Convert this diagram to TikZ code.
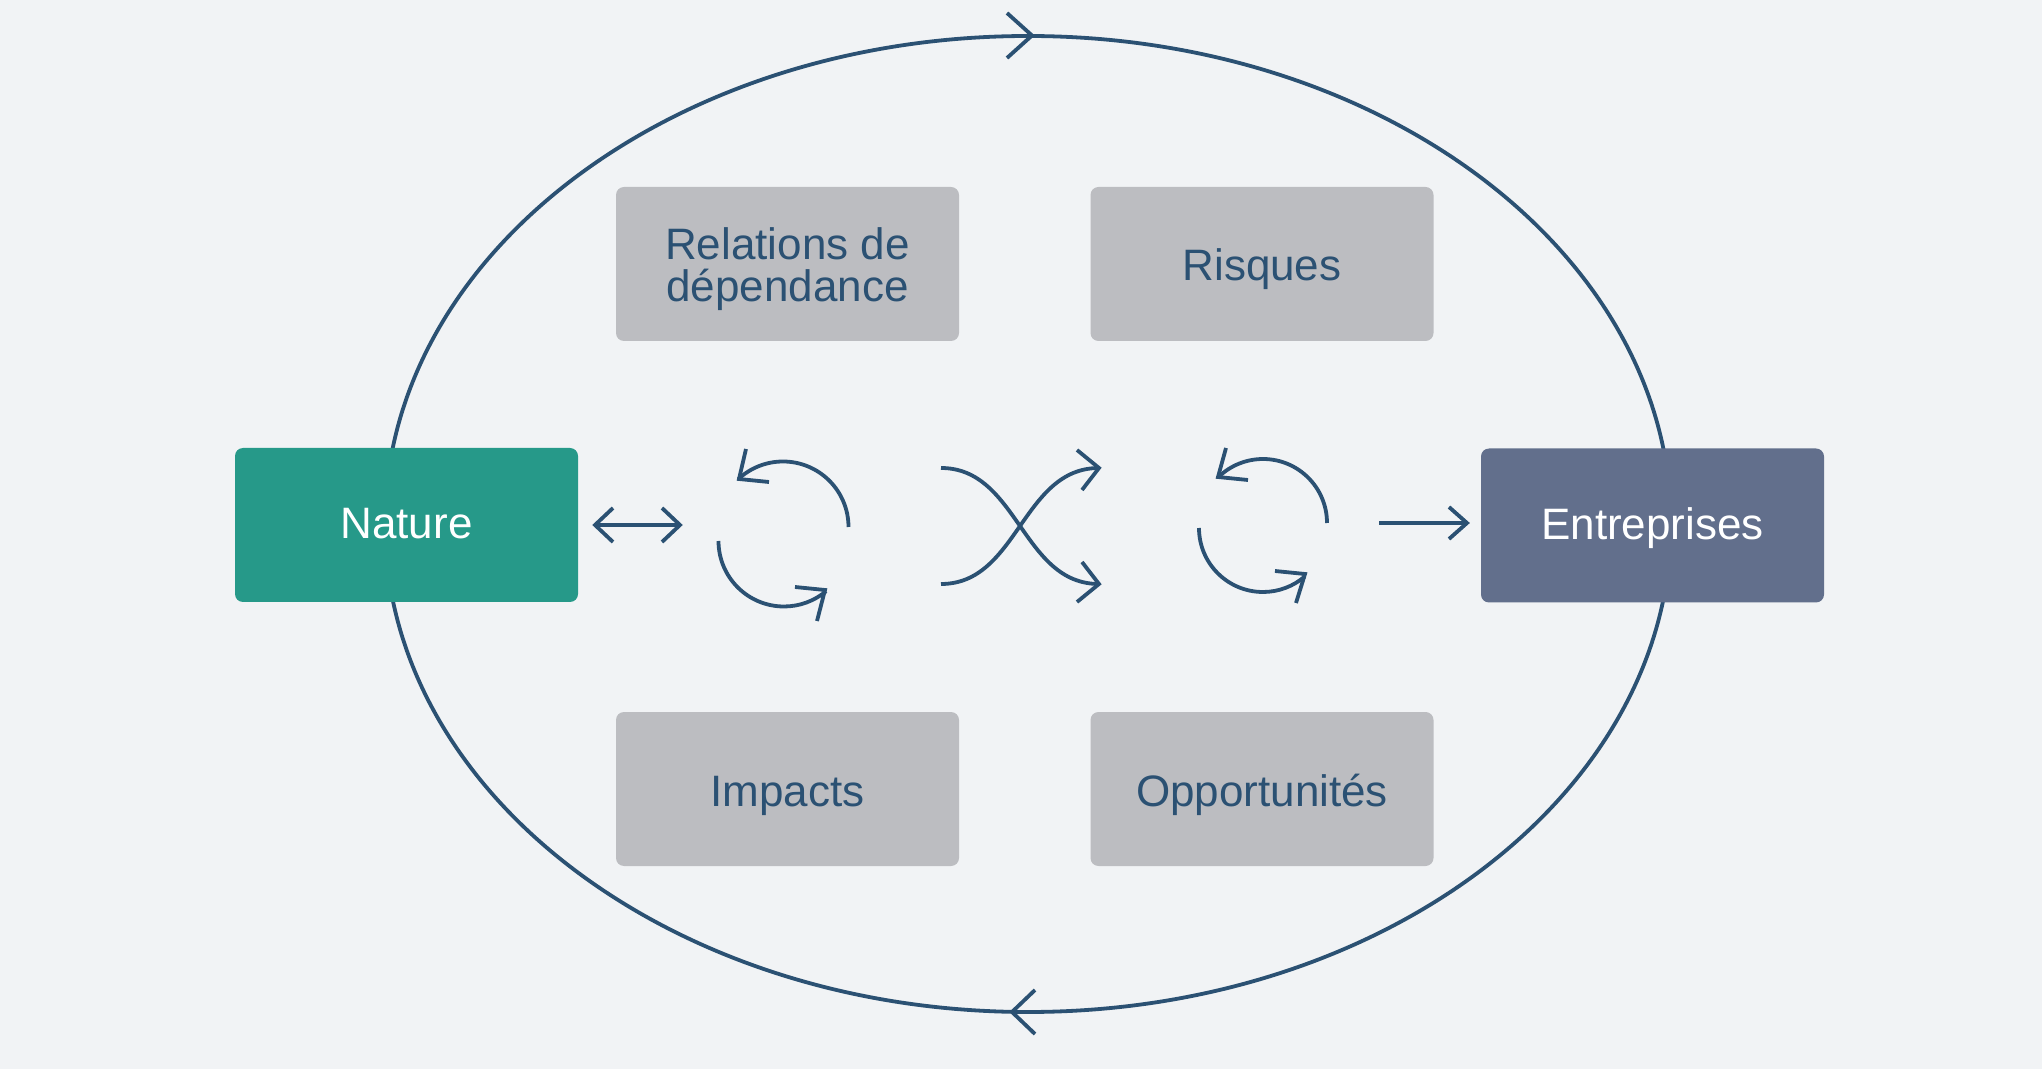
\documentclass[tikz,border=0pt]{standalone}
\usepackage{fontspec}
\setmainfont{Liberation Sans}
\definecolor{bgcol}{RGB}{241,243,245}
\definecolor{navy}{RGB}{43,81,115}
\definecolor{naturegreen}{RGB}{38,153,137}
\definecolor{slate}{RGB}{98,111,140}
\definecolor{boxgray}{RGB}{188,189,193}
\begin{document}
\begin{tikzpicture}[x=0.5pt,y=-0.5pt,
  box/.style={rectangle, rounded corners=4pt, minimum width=171.5pt, minimum height=77pt,
    inner sep=0pt, align=center, font=\fontsize{22pt}{21pt}\selectfont},
  colbox/.style={box, text=white, text height=14pt, text depth=0pt},
  graybox/.style={box, fill=boxgray, text=navy, text height=17pt, text depth=0pt},
  ln/.style={draw=navy, line width=1.9pt},
  chev/.style={draw=navy, line width=1.9pt, line join=miter, line cap=butt}]
\useasboundingbox (0,0) rectangle (2042,1069);
\fill[bgcol] (0,0) rectangle (2042,1069);
% outer cycle
\draw[ln] (1028,524) ellipse [x radius=321.5pt, y radius=244pt];
\draw[chev] (1007,13) -- (1032,35.5) -- (1007,58);
\draw[chev] (1035,990) -- (1012,1012) -- (1035,1034);
% nodes
\node[colbox, fill=naturegreen] (nature) at (406.5,525) {Nature};
\node[colbox, fill=slate] (entreprises) at (1652.5,525.5) {Entreprises};
\node[graybox, text height=38pt] (relations) at (787.5,264) {Relations de\\dépendance};
\node[graybox] (risques) at (1262,264) {Risques};
\node[graybox] (impacts) at (787.5,789) {Impacts};
\node[graybox] (opport) at (1262,789) {Opportunités};
% double arrow
\coordinate (da) at (595,525);
\coordinate (db) at (680,525);
\draw[ln] (da) -- (db);
\draw[chev] (613,508) -- (da) -- (613,542);
\draw[chev] (662,508) -- (db) -- (662,542);
% cycle icon 1
\draw[ln] (848.5,527) arc[start angle=0, end angle=133, radius=32.75pt];
\draw[chev] (746,449) -- (739,479) -- (769,482);
\draw[ln] (718.5,541) arc[start angle=180, end angle=310, radius=32.75pt];
\draw[chev] (795,587) -- (825,590) -- (817,621);
% crossing arrows
\coordinate (c1) at (941,468);
\coordinate (c2) at (941,584);
\coordinate (c3) at (1099,468);
\coordinate (c4) at (1099,584);
\draw[ln] (c1) .. controls (1018,468) and (1022,584) .. (c4);
\draw[ln] (c2) .. controls (1018,584) and (1022,468) .. (c3);
\draw[chev] (1077,450) -- (c3) -- (1082,490);
\draw[chev] (1082,562) -- (c4) -- (1077,602);
% cycle icon 2
\draw[ln] (1327,523) arc[start angle=0, end angle=134, radius=32pt];
\draw[chev] (1226,448) -- (1218,477) -- (1248,480);
\draw[ln] (1199,528) arc[start angle=180, end angle=311, radius=32pt];
\draw[chev] (1275,571) -- (1305,574) -- (1296,603);
% right arrow
\coordinate (ra) at (1379,523);
\coordinate (rb) at (1467,523);
\draw[ln] (ra) -- (rb);
\draw[chev] (1449,507) -- (rb) -- (1449,539);
\end{tikzpicture}
\end{document}
